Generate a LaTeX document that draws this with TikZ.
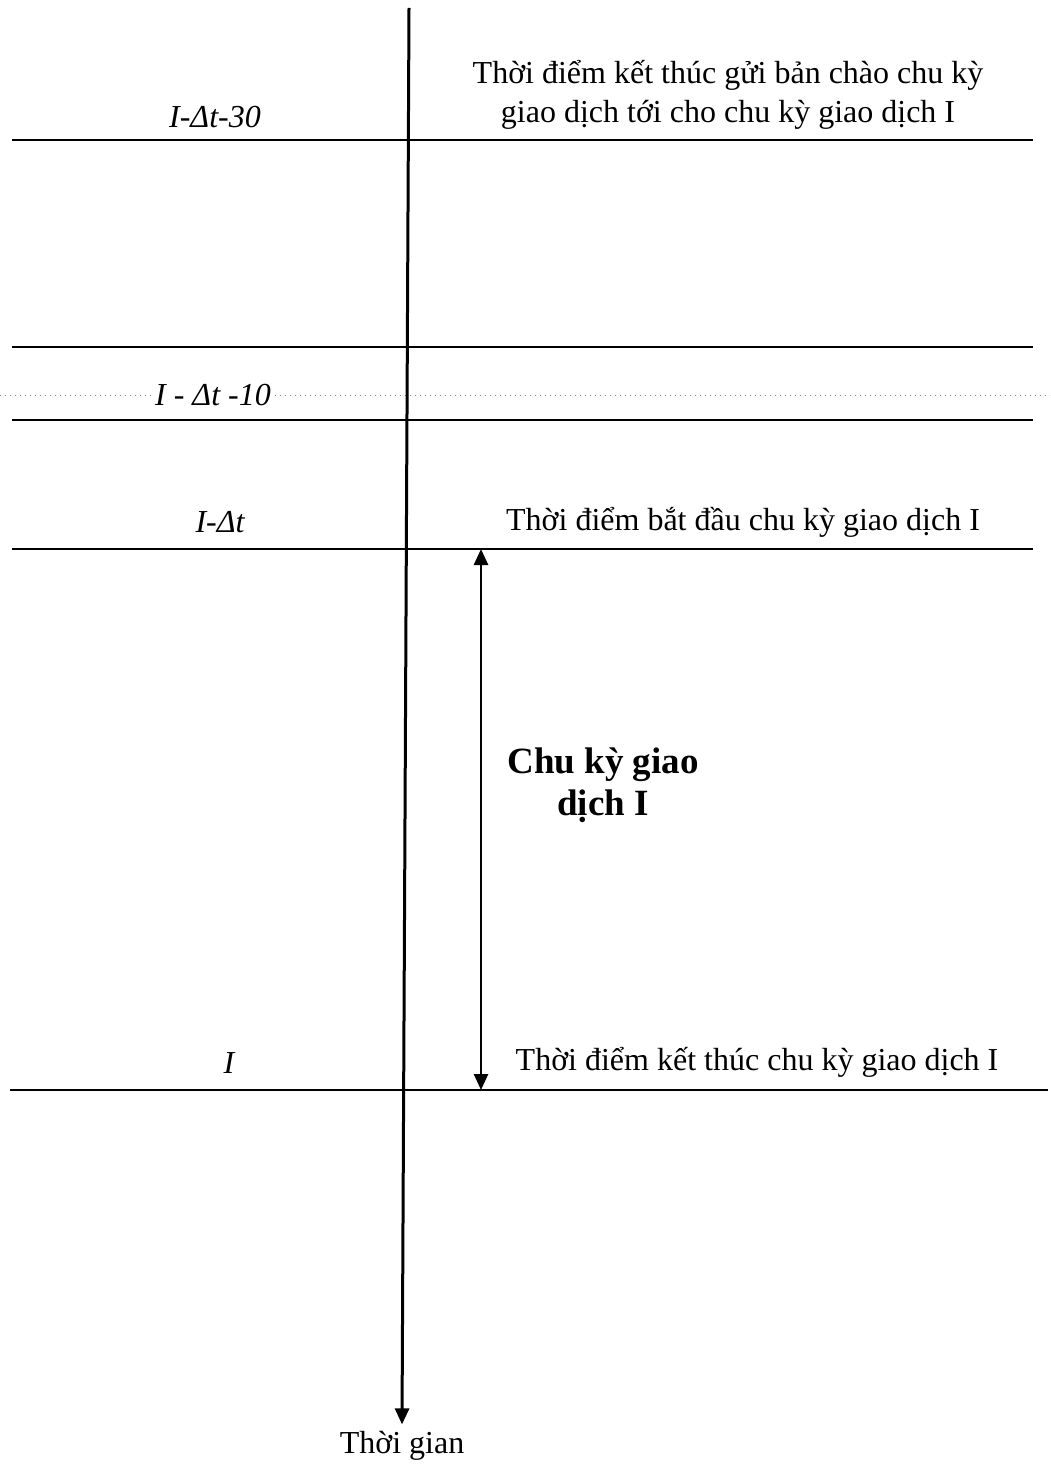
\documentclass[tikz,border=0pt]{standalone}
\usepackage{fontspec}
\setmainfont{Liberation Serif}
\usetikzlibrary{arrows.meta}
\tikzset{
  mocline/.style={line width=1.2pt},
  muiten/.style={-{Triangle[length=8pt,width=7pt]}},
  nhan/.style={font=\fontsize{16}{19.5}\selectfont\itshape},
  ghichu/.style={font=\fontsize{16}{19.5}\selectfont,align=center}}

\begin{document}
\begin{tikzpicture}[x=0.5pt,y=-0.5pt]
\useasboundingbox(0,0)rectangle(1050,1465);
% cac moc thoi gian
\draw[mocline](12,140)--(1033,140);
\draw[mocline](12,347)--(1033,347);
\draw[gray,dotted,line width=.5pt](0,395)--(1050,395);
\draw[mocline](12,420)--(1033,420);
\draw[mocline](12,549)--(1033,549);
\draw[mocline](10,1090)--(1048,1090);
% truc thoi gian
\coordinate(tren)at(409,8);
\node[ghichu](tg)at(402,1446){Thời gian};
\draw[line width=1.5pt,muiten](tren)--(tg.north);
% chu ky
\coordinate(batdau)at(481,549);
\coordinate(ketthuc)at(481,1090);
\draw[line width=1.3pt,{Triangle[length=8pt,width=7pt]}-{Triangle[length=8pt,width=7pt]}](batdau)--(ketthuc);
\node[nhan](m30)at(215,117){I-Δt-30};
\node[nhan,fill=white,inner sep=1pt](m10)at(213,395){I - Δt -10};
\node[nhan](mbd)at(220,522){I-Δt};
\node[nhan](mkt)at(229,1063){I};
\node[ghichu](g30)at(728,95){Thời điểm kết thúc gửi bản chào chu kỳ\\giao dịch tới cho chu kỳ giao dịch I};
\node[ghichu](gbd)at(743,522){Thời điểm bắt đầu chu kỳ giao dịch I};
\node[ghichu](gkt)at(757,1062){Thời điểm kết thúc chu kỳ giao dịch I};
\node[ghichu,font=\fontsize{18.5}{21}\selectfont\bfseries](ck)at(603,785){Chu kỳ giao\\dịch I};
\end{tikzpicture}
\end{document}
